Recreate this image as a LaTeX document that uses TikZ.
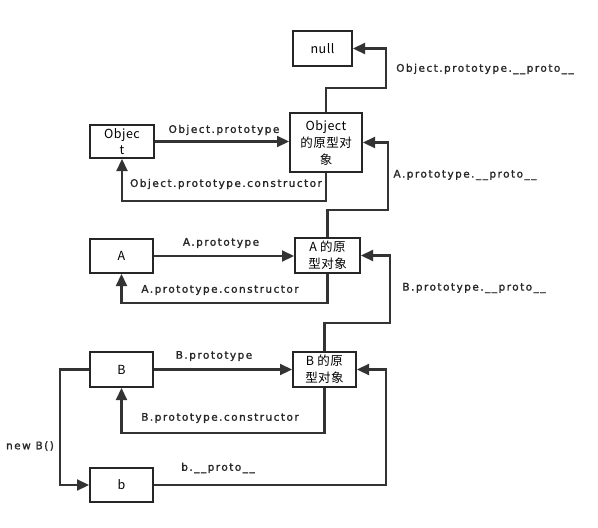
\documentclass[tikz,border=0pt]{standalone}
\usepackage{fontspec}
\setmainfont{Noto Sans}
\newfontfamily\cjk{Noto Sans CJK SC}[LetterSpace=4]
\newfontfamily\lblfont{DejaVu Sans}[LetterSpace=14, FakeBold=1.5]
\usetikzlibrary{arrows.meta}
\begin{document}
\begin{tikzpicture}[x=1pt,y=-1pt,
  box/.style={draw=black!85, line width=2pt, fill=white, font=\cjk\fontsize{12.5}{17}\selectfont, align=center, inner sep=0pt},
  conn/.style={draw=black!80, line width=2.2pt, -{Triangle[length=12pt,width=11pt]}},
  lbl/.style={font=\lblfont\fontsize{10.5}{12}\selectfont, text=black!85, inner sep=0pt}]
\useasboundingbox (0,0) rectangle (598,528);
\node[box, minimum width=59pt, minimum height=35pt] (null) at (322.5,48.5) {null};
\node[box, minimum width=72pt, minimum height=59pt] (objp) at (326,142.5) {Object\\的原型对\\象};
\node[box, minimum width=64pt, minimum height=33pt, font=\cjk\fontsize{12.5}{16}\selectfont] (Obj) at (122,141.5) {Objec\\t};
\node[box, minimum width=63pt, minimum height=34pt] (A) at (121.5,256) {A};
\node[box, minimum width=65pt, minimum height=35pt] (Ap) at (327.5,255.5) {A 的原\\型对象};
\node[box, minimum width=63pt, minimum height=35pt] (B) at (121.5,369.5) {B};
\node[box, minimum width=63pt, minimum height=35pt] (Bp) at (324.5,369.5) {B 的原\\型对象};
\node[box, minimum width=63pt, minimum height=34pt] (b) at (121.5,485) {b};

\coordinate (c1) at (386,88);
\coordinate (c2) at (388,210);
\coordinate (c3) at (390,323);
\coordinate (c4) at (386,485);
\coordinate (c5) at (60,369.5);

\draw[conn] (objp.north) |- (c1) |- (null.east);
\draw[conn] (Obj.east) -- (Obj.east -| objp.west);
\draw[conn] (objp.south) -- ++(0,28) -| (Obj.south);
\draw[conn] (Ap.north) |- (c2) |- (objp.east);
\draw[conn] (A.east) -- (A.east -| Ap.west);
\draw[conn] (Ap.south) -- ++(0,29) -| (A.south);
\draw[conn] (Bp.north) |- (c3) |- (Ap.east);
\draw[conn] (B.east) -- (B.east -| Bp.west);
\draw[conn] (Bp.south) -- ++(0,45) -| (B.south);
\draw[conn] (B.west) -- (c5) |- (b.west);
\draw[conn] (b.east) -- (c4) |- (Bp.east);

\node[lbl] (l1) at (485,69) {Object.prototype.\_\_proto\_\_};
\node[lbl] (l2) at (224,130) {Object.prototype};
\node[lbl] (l3) at (226,184) {Object.prototype.constructor};
\node[lbl] (l4) at (465,175) {A.prototype.\_\_proto\_\_};
\node[lbl] (l5) at (221,243) {A.prototype};
\node[lbl] (l6) at (220,290) {A.prototype.constructor};
\node[lbl] (l7) at (474,288) {B.prototype.\_\_proto\_\_};
\node[lbl] (l8) at (214,356) {B.prototype};
\node[lbl] (l9) at (220,418) {B.prototype.constructor};
\node[lbl] (l10) at (30,446) {new B()};
\node[lbl] (l11) at (218,468) {b.\_\_proto\_\_};
\end{tikzpicture}
\end{document}
